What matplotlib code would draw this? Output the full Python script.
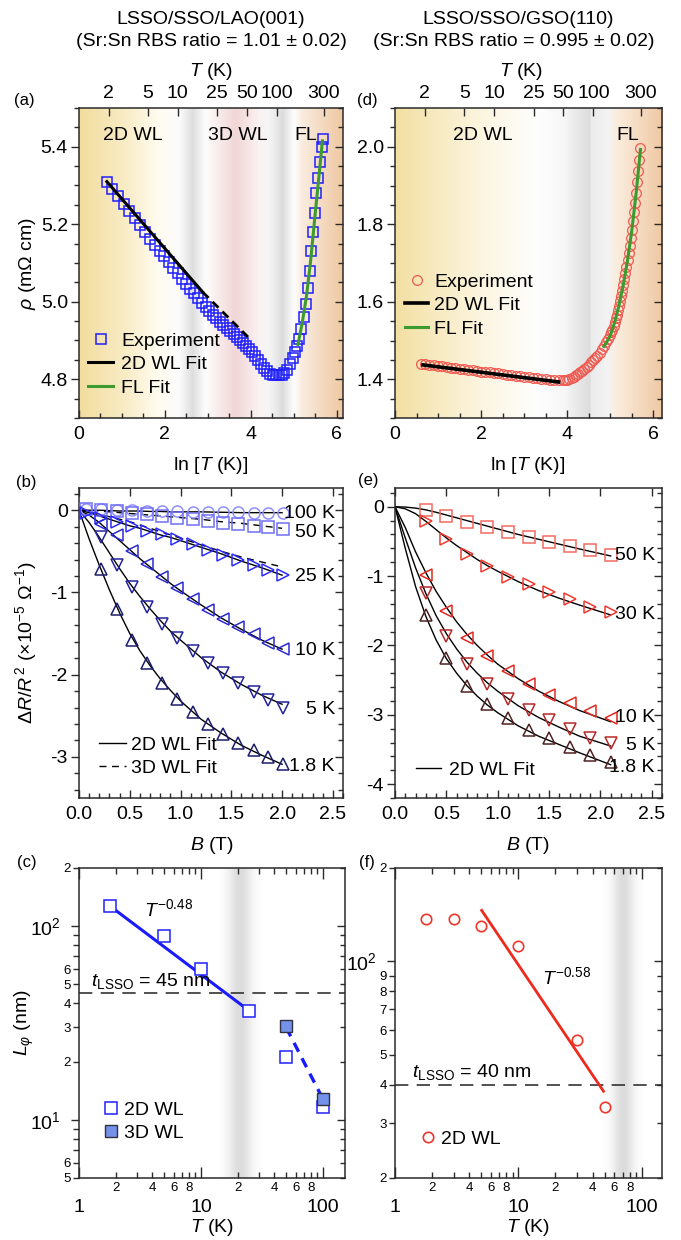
import numpy as np
import matplotlib
matplotlib.use('Agg')
import matplotlib.pyplot as plt
from matplotlib.colors import to_rgb
from matplotlib.ticker import MultipleLocator, FormatStrFormatter, NullFormatter

plt.rcParams['font.family'] = ['Liberation Sans', 'DejaVu Sans']
plt.rcParams['mathtext.fontset'] = 'custom'
plt.rcParams['mathtext.rm'] = 'Liberation Sans'
plt.rcParams['mathtext.it'] = 'Liberation Sans:italic'
plt.rcParams['mathtext.bf'] = 'Liberation Sans:bold'
plt.rcParams['axes.unicode_minus'] = False

W, H = 681, 1240
FS = 14

# ---------------- (a) rho vs ln T, LAO ----------------
lnT_a = [0.65, 0.78, 0.91, 1.04, 1.17, 1.30, 1.42, 1.54, 1.66, 1.77, 1.88, 1.99, 2.10, 2.20,
         2.30, 2.40, 2.50, 2.59, 2.68, 2.77, 2.86, 2.95, 3.04, 3.12, 3.20, 3.28, 3.36, 3.44,
         3.52, 3.60, 3.68, 3.75, 3.82, 3.89, 3.96, 4.03, 4.10, 4.17, 4.24, 4.31, 4.38, 4.45,
         4.52, 4.59, 4.66, 4.72, 4.78, 4.85, 4.92, 4.98, 5.03, 5.08, 5.13, 5.18, 5.23, 5.28,
         5.33, 5.37, 5.41, 5.45, 5.49, 5.53, 5.57, 5.61, 5.65, 5.68]
rho_a = [5.310, 5.290, 5.272, 5.253, 5.235, 5.216, 5.198, 5.180, 5.163, 5.147, 5.132, 5.117,
         5.102, 5.088, 5.074, 5.060, 5.047, 5.034, 5.022, 5.010, 4.998, 4.987, 4.976, 4.966,
         4.957, 4.948, 4.940, 4.932, 4.924, 4.916, 4.908, 4.900, 4.893, 4.886, 4.878, 4.870,
         4.860, 4.850, 4.840, 4.830, 4.821, 4.814, 4.810, 4.810, 4.810, 4.812, 4.815, 4.825,
         4.840, 4.855, 4.870, 4.885, 4.905, 4.930, 4.960, 4.995, 5.035, 5.080, 5.130, 5.180,
         5.230, 5.280, 5.320, 5.360, 5.400, 5.420]
wl2d_a_x = [0.65, 2.88]
wl2d_a_y = [5.31, 5.025]
wl3d_a_x = [2.88, 4.02]
wl3d_a_y = [5.025, 4.90]
fl_a_x = [5.10, 5.20, 5.30, 5.40, 5.50, 5.60, 5.67]
fl_a_y = [4.890, 4.945, 5.015, 5.110, 5.225, 5.335, 5.415]

# ---------------- (d) rho vs ln T, GSO ----------------
lnT_d = [0.6, 0.7, 0.8, 0.9, 1.0, 1.1, 1.2, 1.3, 1.4, 1.5, 1.6, 1.7, 1.8, 1.9, 2.0, 2.1, 2.2,
         2.3, 2.4, 2.5, 2.6, 2.7, 2.8, 2.9, 3.0, 3.1, 3.2, 3.3, 3.4, 3.5, 3.6, 3.7, 3.8, 3.9,
         3.95, 4.0, 4.05, 4.1, 4.15, 4.2, 4.25, 4.3, 4.35, 4.4, 4.45, 4.5, 4.55, 4.6, 4.65,
         4.7, 4.75, 4.8, 4.85, 4.9, 4.95, 5.0, 5.025, 5.05, 5.075, 5.1, 5.125, 5.15, 5.175,
         5.2, 5.225, 5.25, 5.275, 5.3, 5.325, 5.35, 5.375, 5.4, 5.425, 5.45, 5.475, 5.5,
         5.525, 5.55, 5.575, 5.6, 5.625, 5.65, 5.675, 5.7]
rho_d = [1.440, 1.439, 1.437, 1.436, 1.434, 1.433, 1.432, 1.430, 1.429, 1.427, 1.426, 1.425,
         1.423, 1.422, 1.420, 1.419, 1.418, 1.416, 1.415, 1.413, 1.412, 1.410, 1.409, 1.408,
         1.406, 1.405, 1.404, 1.402, 1.401, 1.400, 1.399, 1.398, 1.397, 1.397, 1.398, 1.399,
         1.401, 1.404, 1.407, 1.410, 1.414, 1.418, 1.422, 1.427, 1.432, 1.438, 1.444, 1.450,
         1.455, 1.460, 1.468, 1.477, 1.487, 1.497, 1.505, 1.515, 1.521, 1.528, 1.537, 1.547,
         1.557, 1.567, 1.578, 1.590, 1.602, 1.615, 1.629, 1.643, 1.658, 1.673, 1.690, 1.707,
         1.725, 1.744, 1.764, 1.785, 1.808, 1.831, 1.856, 1.881, 1.909, 1.937, 1.967, 1.997]
wl2d_d_x = [0.65, 3.80]
wl2d_d_y = [1.437, 1.393]
fl_d_x = [4.85, 4.90, 5.00, 5.10, 5.20, 5.30, 5.40, 5.50, 5.60, 5.70]
fl_d_y = [1.485, 1.493, 1.513, 1.547, 1.590, 1.643, 1.707, 1.785, 1.881, 1.993]

# ---------------- (b) magnetoresistance, LAO ----------------
B_b = [0.07, 0.22, 0.37, 0.52, 0.67, 0.82, 0.97, 1.12, 1.27, 1.42, 1.57, 1.72, 1.86, 2.01]
mr_b_100 = [0.02, 0.01, 0.0, 0.0, -0.01, -0.01, -0.01, -0.02, -0.02, -0.02, -0.02, -0.03, -0.03, -0.03]
mr_b_50 = [0.01, 0.0, -0.01, -0.03, -0.05, -0.07, -0.09, -0.11, -0.13, -0.15, -0.17, -0.19, -0.21, -0.23]
mr_b_25 = [-0.03, -0.09, -0.14, -0.19, -0.25, -0.29, -0.35, -0.41, -0.48, -0.54, -0.61, -0.67, -0.73, -0.79]
mr_b_10 = [-0.17, -0.30, -0.50, -0.65, -0.81, -0.95, -1.08, -1.21, -1.32, -1.42, -1.51, -1.61, -1.69]
mr_b_5 = [-0.33, -0.67, -0.94, -1.18, -1.38, -1.55, -1.71, -1.86, -1.98, -2.10, -2.21, -2.31, -2.40]
mr_b_18 = [-0.71, -1.20, -1.58, -1.86, -2.10, -2.30, -2.46, -2.60, -2.72, -2.83, -2.92, -3.00, -3.09]

Bf_b = [0, 0.1, 0.2, 0.3, 0.4, 0.5, 0.6, 0.7, 0.8, 0.9, 1.0, 1.2, 1.4, 1.6, 1.8, 2.0]
fit_b_100 = [0, 0, 0, -0.005, -0.01, -0.01, -0.01, -0.015, -0.015, -0.02, -0.02, -0.02, -0.025, -0.03, -0.03, -0.03]
fit3_b_50 = [0, 0, -0.01, -0.02, -0.03, -0.04, -0.05, -0.06, -0.07, -0.08, -0.09, -0.11, -0.14, -0.16, -0.19, -0.22]
fit_b_25 = [0, -0.03, -0.07, -0.11, -0.15, -0.19, -0.22, -0.26, -0.30, -0.33, -0.37, -0.45, -0.53, -0.62, -0.70, -0.79]
fit3_b_25 = [0, -0.02, -0.05, -0.08, -0.11, -0.14, -0.18, -0.22, -0.26, -0.30, -0.34, -0.42, -0.50, -0.57, -0.63, -0.69]
fit_b_10 = [0, -0.06, -0.15, -0.26, -0.37, -0.48, -0.59, -0.69, -0.79, -0.89, -0.98, -1.15, -1.31, -1.45, -1.58, -1.69]
fit_b_5 = [0, -0.15, -0.33, -0.52, -0.71, -0.89, -1.05, -1.20, -1.34, -1.47, -1.58, -1.79, -1.97, -2.12, -2.25, -2.36]
fit_b_18 = [0, -0.35, -0.67, -0.97, -1.25, -1.50, -1.71, -1.89, -2.05, -2.19, -2.32, -2.54, -2.71, -2.86, -2.98, -3.09]

# ---------------- (e) magnetoresistance, GSO ----------------
B_e = [0.3, 0.5, 0.7, 0.9, 1.1, 1.3, 1.5, 1.7, 1.9, 2.1]
mr_e_50 = [-0.05, -0.13, -0.22, -0.29, -0.37, -0.44, -0.51, -0.57, -0.63, -0.70]
mr_e_30 = [-0.20, -0.47, -0.68, -0.86, -1.01, -1.12, -1.23, -1.33, -1.45, -1.52]
mr_e_10 = [-0.98, -1.51, -1.89, -2.15, -2.37, -2.55, -2.71, -2.83, -2.95, -3.04]
mr_e_5 = [-1.24, -1.86, -2.27, -2.55, -2.77, -2.93, -3.07, -3.21, -3.33, -3.41]
mr_e_18 = [-1.56, -2.18, -2.58, -2.84, -3.05, -3.22, -3.34, -3.47, -3.58, -3.68]

Bf_e = [0, 0.1, 0.2, 0.3, 0.4, 0.5, 0.6, 0.7, 0.8, 0.9, 1.0, 1.2, 1.4, 1.6, 1.8, 2.1]
fit_e_50 = [0, -0.005, -0.02, -0.045, -0.08, -0.12, -0.16, -0.20, -0.24, -0.28, -0.32, -0.40, -0.47, -0.54, -0.61, -0.71]
fit_e_30 = [0, -0.03, -0.10, -0.21, -0.33, -0.45, -0.56, -0.66, -0.76, -0.85, -0.93, -1.08, -1.21, -1.32, -1.42, -1.56]
fit_e_10 = [0, -0.30, -0.65, -0.95, -1.22, -1.45, -1.66, -1.84, -2.00, -2.14, -2.27, -2.48, -2.66, -2.81, -2.94, -3.10]
fit_e_5 = [0, -0.45, -0.88, -1.25, -1.57, -1.83, -2.05, -2.24, -2.40, -2.54, -2.66, -2.87, -3.04, -3.18, -3.31, -3.45]
fit_e_18 = [0, -0.60, -1.15, -1.58, -1.92, -2.19, -2.40, -2.58, -2.73, -2.86, -2.97, -3.16, -3.31, -3.43, -3.55, -3.72]

# ---------------- (c),(f) phase coherence length ----------------
T_c2d = [1.8, 5, 10, 25, 50, 100]
L_c2d = [127, 89.5, 60, 36.3, 21.2, 11.7]
T_c3d = [50, 100]
L_c3d = [30.6, 12.8]
Tfit_c2d = [1.8, 25]
Lfit_c2d = [127, 36.5]
Tfit_c3d = [50, 97]
Lfit_c3d = [30, 13.3]

T_f = [1.8, 3, 5, 10, 30, 50]
L_f = [137, 137, 130, 112, 55.9, 34]
Tfit_f = [5.04, 49]
Lfit_f = [146, 38.1]

T_top = [2, 5, 10, 25, 50, 100, 300]


def box(x0, y0, x1, y1):
    return [x0 / W, 1 - y1 / H, (x1 - x0) / W, (y1 - y0) / H]


def ftext(x, y, s, **kw):
    fig.text(x / W, 1 - y / H, s, **kw)


def frame(ax):
    for s in ax.spines.values():
        s.set_linewidth(1.1)
        s.set_color('#2a2a2a')
    ax.tick_params(which='both', width=1.0, colors='#2a2a2a', labelsize=FS, labelcolor='black')
    ax.tick_params(which='major', length=6)
    ax.tick_params(which='minor', length=3.5)
    ax.tick_params(axis='y', which='both', direction='out', left=True, right=False, pad=2)
    ax.tick_params(axis='x', which='both', direction='in', bottom=True, pad=6)


def right_ticks(ax, major=None, minor=None, log=False, ymaj=None, ymin=None):
    axr = ax.twinx()
    if log:
        axr.set_yscale('log')
    axr.set_ylim(ax.get_ylim())
    if log:
        axr.set_yticks(ymaj)
        axr.set_yticks(ymin, minor=True)
    else:
        axr.yaxis.set_major_locator(MultipleLocator(major))
        axr.yaxis.set_minor_locator(MultipleLocator(minor))
    axr.yaxis.set_major_formatter(NullFormatter())
    axr.yaxis.set_minor_formatter(NullFormatter())
    axr.tick_params(axis='y', which='both', direction='in', colors='#2a2a2a', width=1.0)
    axr.tick_params(which='major', length=6)
    axr.tick_params(which='minor', length=3.5)
    for s in axr.spines.values():
        s.set_visible(False)
    return axr


def hgrad(ax, pos, cols, x0, x1, y0, y1):
    xs = np.linspace(x0, x1, 800)
    rgb = np.array([to_rgb(c) for c in cols])
    img = np.stack([np.interp(xs, pos, rgb[:, k]) for k in range(3)], axis=-1)[None, :, :]
    ax.imshow(img, extent=[x0, x1, y0, y1], aspect='auto', zorder=0, interpolation='bilinear')


def gray_band(ax, lo, hi, center, width, depth, y0, y1):
    edges = np.logspace(np.log10(lo), np.log10(hi), 240)
    mids = np.sqrt(edges[:-1] * edges[1:])
    prof = np.exp(-((np.log10(mids) - np.log10(center)) / width) ** 2)
    ax.pcolormesh(edges, [y0, y1], (1 - depth * prof)[None, :], cmap='gray', vmin=0, vmax=1,
                  shading='flat', zorder=0, edgecolors='none', antialiased=False)


fig = plt.figure(figsize=(W / 100, H / 100), dpi=100)

# titles
ftext(211, 20, 'LSSO/SSO/LAO(001)', ha='center', va='center', fontsize=FS)
ftext(211, 41, '(Sr:Sn RBS ratio = 1.01 ± 0.02)', ha='center', va='center', fontsize=FS)
ftext(518, 20, 'LSSO/SSO/GSO(110)', ha='center', va='center', fontsize=FS)
ftext(514, 41, '(Sr:Sn RBS ratio = 0.995 ± 0.02)', ha='center', va='center', fontsize=FS)

for lab, x, y in [('(a)', 24, 100), ('(b)', 26, 482), ('(c)', 27, 863),
                  ('(d)', 367, 100), ('(e)', 368, 480), ('(f)', 367, 863)]:
    ftext(x, y, lab, ha='center', va='center', fontsize=12)

# ---------------- panel (a) ----------------
ax = fig.add_axes(box(79, 108, 343, 418))
hgrad(ax, [0.0, 1.0, 1.9, 2.35, 2.65, 2.95, 3.15, 3.65, 4.2, 4.45, 4.75, 5.0, 5.2, 6.15],
      ['#f2dd9e', '#f8ebc2', '#fffcf2', '#fbfbfb', '#dedede', '#fdfdfd', '#fbf1f1', '#f1d6d6',
       '#fbf2f2', '#f5f5f5', '#dcdcdc', '#fdfdfd', '#f9ecdf', '#efc8a2'], 0, 6.15, 4.7, 5.5)
ax.plot(lnT_a, rho_a, 's', ms=7, mfc='none', mec='#1f1fff', mew=1.1, zorder=3, label='Experiment')
ax.plot(wl2d_a_x, wl2d_a_y, '-', color='black', lw=2.2, zorder=4, label='2D WL Fit')
ax.plot(wl3d_a_x, wl3d_a_y, '--', color='black', lw=2.0, dashes=(3, 2), zorder=4)
ax.plot(fl_a_x, fl_a_y, '-', color='#3c9a2e', lw=2.2, zorder=4, label='FL Fit')
ax.set_xlim(0, 6.15)
ax.set_ylim(4.7, 5.5)
ax.xaxis.set_major_locator(MultipleLocator(2))
ax.xaxis.set_minor_locator(MultipleLocator(0.5))
ax.yaxis.set_major_locator(MultipleLocator(0.2))
ax.yaxis.set_minor_locator(MultipleLocator(0.05))
ax.yaxis.set_major_formatter(FormatStrFormatter('%.1f'))
frame(ax)
ax.tick_params(axis='x', top=False)
right_ticks(ax, 0.2, 0.05)
top = ax.secondary_xaxis('top')
top.set_xticks(np.log(T_top), labels=[str(t) for t in T_top])
top.tick_params(direction='in', length=6, width=1.0, labelsize=FS, pad=4, colors='#2a2a2a', labelcolor='black')
top.spines['top'].set_visible(False)
ax.text(1.26, 5.43, '2D WL', ha='center', va='center', fontsize=FS)
ax.text(3.70, 5.43, '3D WL', ha='center', va='center', fontsize=FS)
ax.text(5.28, 5.43, 'FL', ha='center', va='center', fontsize=FS)
ax.legend(loc='upper left', bbox_to_anchor=(88 / W, 1 - 332 / H), bbox_transform=fig.transFigure,
          frameon=False, fontsize=FS, borderpad=0, borderaxespad=0, handlelength=1.3,
          handletextpad=0.4, labelspacing=0.3, numpoints=1)
ftext(27, 263, r'$\mathit{\rho}$ (m$\Omega$ cm)', rotation=90, ha='center', va='center', fontsize=FS)
ftext(211, 466, r'ln [$\mathit{T}$ (K)]', ha='center', va='center', fontsize=FS)
ftext(211, 71, r'$\mathit{T}$ (K)', ha='center', va='center', fontsize=FS)

# ---------------- panel (d) ----------------
ax = fig.add_axes(box(395, 108, 662, 418))
hgrad(ax, [0.0, 1.0, 2.0, 3.3, 3.9, 4.52, 4.54, 4.95, 5.1, 6.2],
      ['#f2dfa2', '#f8ebc2', '#fcf5e0', '#fefefe', '#f7f7f7', '#dcdcdc', '#ececec', '#f3f3f3',
       '#fbeee0', '#efc8a2'], 0, 6.2, 1.3, 2.1)
ax.plot(lnT_d, rho_d, 'o', ms=7, mfc='none', mec='#f05a50', mew=0.9, zorder=3, label='Experiment')
ax.plot(wl2d_d_x, wl2d_d_y, '-', color='black', lw=2.6, zorder=4, label='2D WL Fit')
ax.plot(fl_d_x, fl_d_y, '-', color='#3c9a2e', lw=2.2, zorder=4, label='FL Fit')
ax.set_xlim(0, 6.2)
ax.set_ylim(1.3, 2.1)
ax.xaxis.set_major_locator(MultipleLocator(2))
ax.xaxis.set_minor_locator(MultipleLocator(0.5))
ax.yaxis.set_major_locator(MultipleLocator(0.2))
ax.yaxis.set_minor_locator(MultipleLocator(0.05))
ax.yaxis.set_major_formatter(FormatStrFormatter('%.1f'))
frame(ax)
ax.tick_params(axis='x', top=False)
right_ticks(ax, 0.2, 0.05)
top = ax.secondary_xaxis('top')
top.set_xticks(np.log(T_top), labels=[str(t) for t in T_top])
top.tick_params(direction='in', length=6, width=1.0, labelsize=FS, pad=4, colors='#2a2a2a', labelcolor='black')
top.spines['top'].set_visible(False)
ax.text(2.05, 2.03, '2D WL', ha='center', va='center', fontsize=FS)
ax.text(5.40, 2.03, 'FL', ha='center', va='center', fontsize=FS)
ax.legend(loc='upper left', bbox_to_anchor=(405 / W, 1 - 273 / H), bbox_transform=fig.transFigure,
          frameon=False, fontsize=FS, borderpad=0, borderaxespad=0, handlelength=1.2,
          handletextpad=0.3, labelspacing=0.3, numpoints=1)
ftext(528, 466, r'ln [$\mathit{T}$ (K)]', ha='center', va='center', fontsize=FS)
ftext(521, 71, r'$\mathit{T}$ (K)', ha='center', va='center', fontsize=FS)

# ---------------- panel (b) ----------------
ax = fig.add_axes(box(79, 488, 343, 798))
ax.plot(Bf_b, fit_b_100, '-', color='black', lw=1.0, zorder=2)
ax.plot(Bf_b, fit3_b_50, '--', color='black', lw=1.0, dashes=(5, 4), zorder=2)
ax.plot(Bf_b, fit_b_25, '-', color='black', lw=1.0, zorder=2)
ax.plot(Bf_b, fit3_b_25, '--', color='black', lw=1.0, dashes=(5, 4), zorder=2)
ax.plot(Bf_b, fit_b_10, '-', color='black', lw=1.0, zorder=2)
ax.plot(Bf_b, fit_b_5, '-', color='black', lw=1.0, zorder=2)
ax.plot(Bf_b, fit_b_18, '-', color='black', lw=1.0, zorder=2)
mk = dict(ms=8, mfc='none', mew=1.1, ls='none', zorder=3)
ax.plot(B_b, mr_b_100, 'o', mec='#8f8fff', **mk)
ax.plot(B_b, mr_b_50, 's', mec='#6f6ff5', **mk)
ax.plot(B_b, mr_b_25, '>', mec='#2b2bff', **mk)
ax.plot(B_b[1:], mr_b_10, '<', mec='#2a2ad2', **mk)
ax.plot(B_b[1:], mr_b_5, 'v', mec='#23239c', **mk)
ax.plot(B_b[1:], mr_b_18, '^', mec='#1c1c6e', **mk)
for lab, yv in [('100 K', -0.04), ('50 K', -0.27), ('25 K', -0.81), ('10 K', -1.71),
                ('5 K', -2.42), ('1.8 K', -3.12)]:
    ax.text(2.52, yv, lab, ha='right', va='center', fontsize=FS)
ax.plot([], [], '-', color='black', lw=1.0, label='2D WL Fit')
ax.plot([], [], '--', color='black', lw=1.0, dashes=(5, 4), label='3D WL Fit')
ax.legend(loc='upper left', bbox_to_anchor=(99 / W, 1 - 736 / H), bbox_transform=fig.transFigure,
          frameon=False, fontsize=FS, borderpad=0, borderaxespad=0, handlelength=1.4,
          handletextpad=0.25, labelspacing=0.3)
ax.set_xlim(0, 2.6)
ax.set_ylim(-3.5, 0.27)
ax.xaxis.set_major_locator(MultipleLocator(0.5))
ax.xaxis.set_minor_locator(MultipleLocator(0.1))
ax.xaxis.set_major_formatter(FormatStrFormatter('%.1f'))
ax.yaxis.set_major_locator(MultipleLocator(1))
ax.yaxis.set_minor_locator(MultipleLocator(0.2))
ax.yaxis.set_major_formatter(FormatStrFormatter('%d'))
frame(ax)
ax.tick_params(axis='x', top=True)
right_ticks(ax, 1, 0.2)
ftext(26, 643, r'$\Delta\mathit{R}/\mathit{R}^{\,2}$ (×10$^{-5}$ $\Omega^{-1}$)', rotation=90,
      ha='center', va='center', fontsize=FS)
ftext(212, 845, r'$\mathit{B}$ (T)', ha='center', va='center', fontsize=FS)

# ---------------- panel (e) ----------------
ax = fig.add_axes(box(395, 488, 662, 798))
for f in [fit_e_50, fit_e_30, fit_e_10, fit_e_5, fit_e_18]:
    ax.plot(Bf_e, f, '-', color='black', lw=1.0, zorder=2)
ax.plot(B_e, mr_e_50, 's', mec='#f26a62', **mk)
ax.plot(B_e, mr_e_30, '>', mec='#f03a30', **mk)
ax.plot(B_e, mr_e_10, '<', mec='#e02a22', **mk)
ax.plot(B_e, mr_e_5, 'v', mec='#b82828', **mk)
ax.plot(B_e, mr_e_18, '^', mec='#4e2222', **mk)
for lab, yv in [('50 K', -0.70), ('30 K', -1.55), ('10 K', -3.04), ('5 K', -3.45), ('1.8 K', -3.76)]:
    ax.text(2.53, yv, lab, ha='right', va='center', fontsize=FS)
ax.plot([], [], '-', color='black', lw=1.0, label='2D WL Fit')
ax.legend(loc='upper left', bbox_to_anchor=(416 / W, 1 - 761 / H), bbox_transform=fig.transFigure,
          frameon=False, fontsize=FS, borderpad=0, borderaxespad=0, handlelength=1.3,
          handletextpad=0.4)
ax.set_xlim(0, 2.6)
ax.set_ylim(-4.2, 0.27)
ax.xaxis.set_major_locator(MultipleLocator(0.5))
ax.xaxis.set_minor_locator(MultipleLocator(0.1))
ax.xaxis.set_major_formatter(FormatStrFormatter('%.1f'))
ax.yaxis.set_major_locator(MultipleLocator(1))
ax.yaxis.set_minor_locator(MultipleLocator(0.2))
ax.yaxis.set_major_formatter(FormatStrFormatter('%d'))
frame(ax)
ax.tick_params(axis='x', top=True)
right_ticks(ax, 1, 0.2)
ftext(528, 845, r'$\mathit{B}$ (T)', ha='center', va='center', fontsize=FS)

# ---------------- log-log helpers ----------------
xmin_lab = ['2', '', '4', '', '6', '', '8', '', '2', '', '4', '', '6', '', '8', '']
xminor = [2, 3, 4, 5, 6, 7, 8, 9, 20, 30, 40, 50, 60, 70, 80, 90]


def log_axes(ax, xmax, ymaj, ymaj_lab, ymin, ymin_lab):
    ax.set_xscale('log')
    ax.set_yscale('log')
    ax.set_xlim(1, xmax)
    frame(ax)
    ax.set_xticks([1, 10, 100], labels=['1', '10', '100'])
    ax.set_xticks(xminor, labels=xmin_lab, minor=True)
    ax.tick_params(axis='x', which='both', direction='in', top=True)
    ax.tick_params(axis='x', which='major', pad=15, labelsize=FS, length=8)
    ax.tick_params(axis='x', which='minor', pad=3, labelsize=9.5, length=4.5)
    ax.set_yticks(ymaj, labels=ymaj_lab)
    ax.set_yticks(ymin, labels=ymin_lab, minor=True)
    ax.tick_params(axis='y', which='minor', labelsize=9.5, length=4, pad=2)
    ax.tick_params(axis='y', which='major', labelsize=FS, length=6, pad=7)


# ---------------- panel (c) ----------------
ax = fig.add_axes(box(79, 868, 345, 1178))
ax.set_yscale('log')
ax.set_ylim(5, 200)
gray_band(ax, 8, 50, 21, 0.1, 0.14, 5, 200)
ax.axhline(45, color='#333333', lw=1.2, dashes=(8, 5), zorder=2)
ax.plot(Tfit_c2d, Lfit_c2d, '-', color='#1a1aff', lw=2.2, zorder=3)
ax.plot(Tfit_c3d, Lfit_c3d, '-', color='#1a1aff', lw=2.4, dashes=(3, 2.2), zorder=3)
ax.plot(T_c2d, L_c2d, 's', ms=8, mfc='white', mec='#2020ff', mew=1.1, zorder=4, label='2D WL')
ax.plot(T_c3d, L_c3d, 's', ms=8, mfc='#7592ea', mec='#303040', mew=1.0, zorder=5, label='3D WL')
ax.set_ylim(5, 200)
cy_minor = [5, 6, 7, 8, 9, 20, 30, 40, 50, 60, 70, 80, 90, 200]
log_axes(ax, 152, [10, 100], [r'10$^1$', r'10$^2$'], cy_minor,
         ['5', '6', '', '', '', '2', '3', '4', '5', '6', '', '', '', '2'])
right_ticks(ax, log=True, ymaj=[10, 100], ymin=cy_minor)
ax.text(3.4, 123, r'$\mathit{T}^{-0.48}$', ha='left', va='center', fontsize=FS)
ax.text(1.25, 46.5, r'$\mathit{t}_{\rm LSSO}$ = 45 nm', ha='left', va='bottom', fontsize=FS)
ax.legend(loc='upper left', bbox_to_anchor=(103 / W, 1 - 1101 / H), bbox_transform=fig.transFigure,
          frameon=False, fontsize=FS, borderpad=0, borderaxespad=0, handlelength=0.8,
          handletextpad=0.3, labelspacing=0.3, numpoints=1)
ftext(24, 1023, r'$\mathit{L}_{\varphi}$ (nm)', rotation=90, ha='center', va='center', fontsize=FS)
ftext(212, 1228, r'$\mathit{T}$ (K)', ha='center', va='center', fontsize=FS)

# ---------------- panel (f) ----------------
ax = fig.add_axes(box(395, 868, 662, 1178))
ax.set_yscale('log')
ax.set_ylim(20, 200)
gray_band(ax, 30, 145, 71, 0.09, 0.14, 20, 200)
ax.axhline(40, color='#333333', lw=1.2, dashes=(8, 5), zorder=2)
ax.plot(Tfit_f, Lfit_f, '-', color='#ee2a1c', lw=2.0, zorder=3)
ax.plot(T_f, L_f, 'o', ms=7.5, mfc='none', mec='#f0352a', mew=1.2, zorder=4, label='2D WL')
ax.set_ylim(20, 200)
fy_minor = [20, 30, 40, 50, 60, 70, 80, 90, 200]
log_axes(ax, 146, [100], [r'10$^2$'], fy_minor, ['2', '3', '4', '5', '6', '7', '8', '9', '2'])
right_ticks(ax, log=True, ymaj=[100], ymin=fy_minor)
ax.text(15.5, 89, r'$\mathit{T}^{-0.58}$', ha='left', va='center', fontsize=FS)
ax.text(1.37, 40.8, r'$\mathit{t}_{\rm LSSO}$ = 40 nm', ha='left', va='bottom', fontsize=FS)
ax.legend(loc='upper left', bbox_to_anchor=(420 / W, 1 - 1130 / H), bbox_transform=fig.transFigure,
          frameon=False, fontsize=FS, borderpad=0, borderaxespad=0, handlelength=0.8,
          handletextpad=0.3, numpoints=1)
ftext(528, 1228, r'$\mathit{T}$ (K)', ha='center', va='center', fontsize=FS)

fig.savefig('out.png', dpi=100)
